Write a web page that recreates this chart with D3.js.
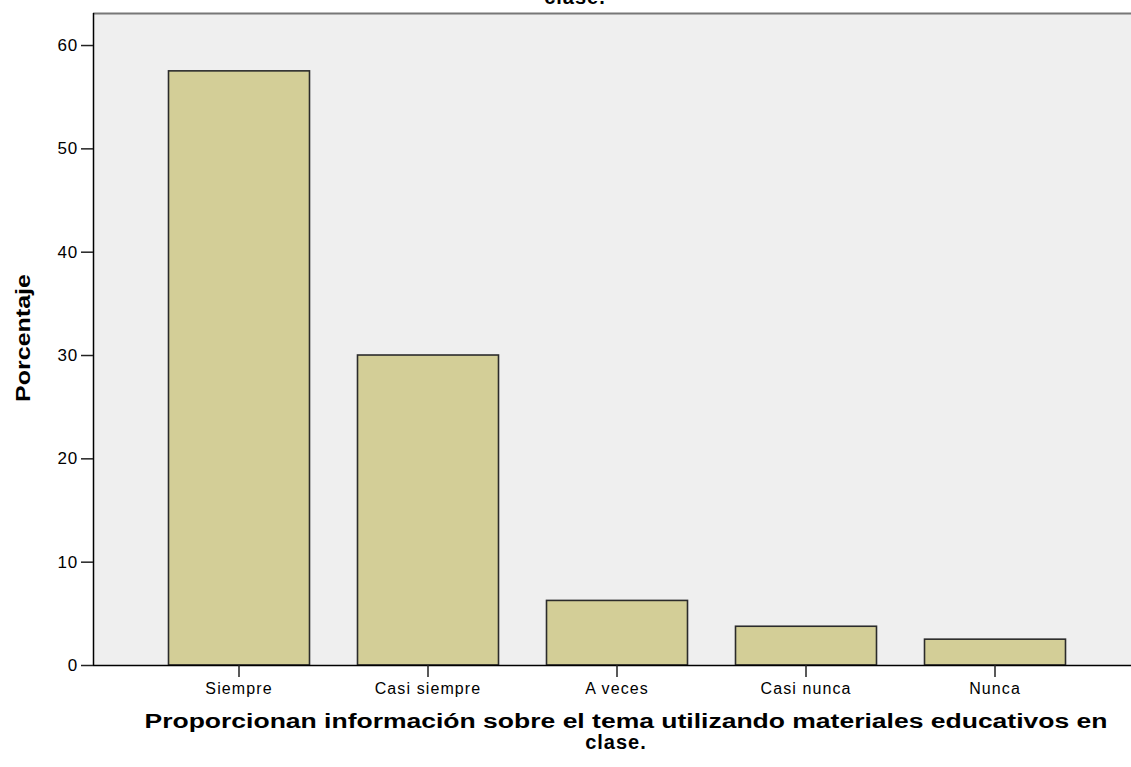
<!DOCTYPE html>
<html>
<head>
<meta charset="utf-8">
<script src="https://cdn.jsdelivr.net/npm/d3@7/dist/d3.min.js"></script>
<style>
  html, body { margin: 0; padding: 0; background: #ffffff; }
  svg { display: block; }
  text { font-family: "Liberation Sans", Arial, sans-serif; fill: #000; }
</style>
</head>
<body>
<svg id="chart" width="1131" height="767"></svg>
<script>
// ---- data ----
const categories = ["Siempre", "Casi siempre", "A veces", "Casi nunca", "Nunca"];
const percentages = [57.5, 30.0, 6.25, 3.75, 2.5];
const yTicks = [0, 10, 20, 30, 40, 50, 60];
const titleLines = ["Proporcionan información sobre el tema utilizando materiales educativos en", "clase."];
const yTitle = "Porcentaje";

// ---- layout ----
const W = 1131, H = 767;
const plot = { left: 93, top: 13, right: 1131, bottom: 665 };

const svg = d3.select("#chart");

const y = d3.scaleLinear().domain([0, 63.1]).range([plot.bottom, plot.top]);
const x = d3.scaleBand().domain(categories).range([144.5, 1089.5])
  .paddingInner(0.254).paddingOuter(0.127);

// plot background
svg.append("rect")
  .attr("x", plot.left).attr("y", plot.top)
  .attr("width", plot.right - plot.left).attr("height", plot.bottom - plot.top)
  .attr("fill", "#efefef");

// top border
svg.append("line")
  .attr("x1", plot.left).attr("x2", plot.right)
  .attr("y1", plot.top + 0.5).attr("y2", plot.top + 0.5)
  .attr("stroke", "#777").attr("stroke-width", 2);

// bars
svg.append("g").selectAll("rect")
  .data(categories.map((c, i) => ({ c, v: percentages[i] })))
  .join("rect")
  .attr("x", d => x(d.c))
  .attr("y", d => y(d.v))
  .attr("width", x.bandwidth())
  .attr("height", d => y(0) - y(d.v))
  .attr("fill", "#d3ce97")
  .attr("stroke", "#2b2b2b")
  .attr("stroke-width", 1.6);

// y axis
const yAxis = svg.append("g")
  .attr("transform", `translate(${plot.left},0)`)
  .call(d3.axisLeft(y).tickValues(yTicks).tickSize(12).tickPadding(3).tickSizeOuter(0));
yAxis.select(".domain").attr("stroke", "#000").attr("stroke-width", 1.5)
  .attr("d", `M0.5,${plot.top}V${plot.bottom}`);
yAxis.selectAll(".tick line").attr("stroke", "#222").attr("stroke-width", 1.5);
yAxis.selectAll(".tick text").attr("font-size", 17).attr("fill", "#222")
  .attr("letter-spacing", 0.8)
  .style("font-family", "'Liberation Sans', Arial, sans-serif");

// x axis
const xAxis = svg.append("g")
  .attr("transform", `translate(0,${plot.bottom})`)
  .call(d3.axisBottom(x).tickSize(12).tickPadding(6).tickSizeOuter(0));
xAxis.select(".domain").attr("stroke", "#000").attr("stroke-width", 1.5)
  .attr("d", `M${plot.left},0.5H${plot.right}`);
xAxis.selectAll(".tick line").attr("stroke", "#222").attr("stroke-width", 1.5);
xAxis.selectAll(".tick text").attr("font-size", 16).attr("fill", "#222")
  .attr("letter-spacing", 1.1)
  .style("font-family", "'Liberation Sans', Arial, sans-serif");

// y title
svg.append("text")
  .attr("transform", `translate(30,338) rotate(-90)`)
  .attr("text-anchor", "middle")
  .attr("font-size", 20).attr("font-weight", "bold")
  .attr("textLength", 128).attr("lengthAdjust", "spacingAndGlyphs")
  .text(yTitle);

// x title (bottom)
svg.append("text")
  .attr("x", 626).attr("y", 728)
  .attr("text-anchor", "middle")
  .attr("font-size", 20).attr("font-weight", "bold")
  .attr("textLength", 963).attr("lengthAdjust", "spacingAndGlyphs")
  .text(titleLines[0]);
svg.append("text")
  .attr("x", 616).attr("y", 749)
  .attr("text-anchor", "middle")
  .attr("font-size", 20).attr("font-weight", "bold")
  .attr("letter-spacing", 1)
  .text(titleLines[1]);

// chart title cut off at top (as in the reference)
svg.append("text")
  .attr("x", 575).attr("y", 4)
  .attr("text-anchor", "middle")
  .attr("font-size", 20).attr("font-weight", "bold")
  .attr("letter-spacing", 1)
  .text(titleLines[1]);
</script>
</body>
</html>
